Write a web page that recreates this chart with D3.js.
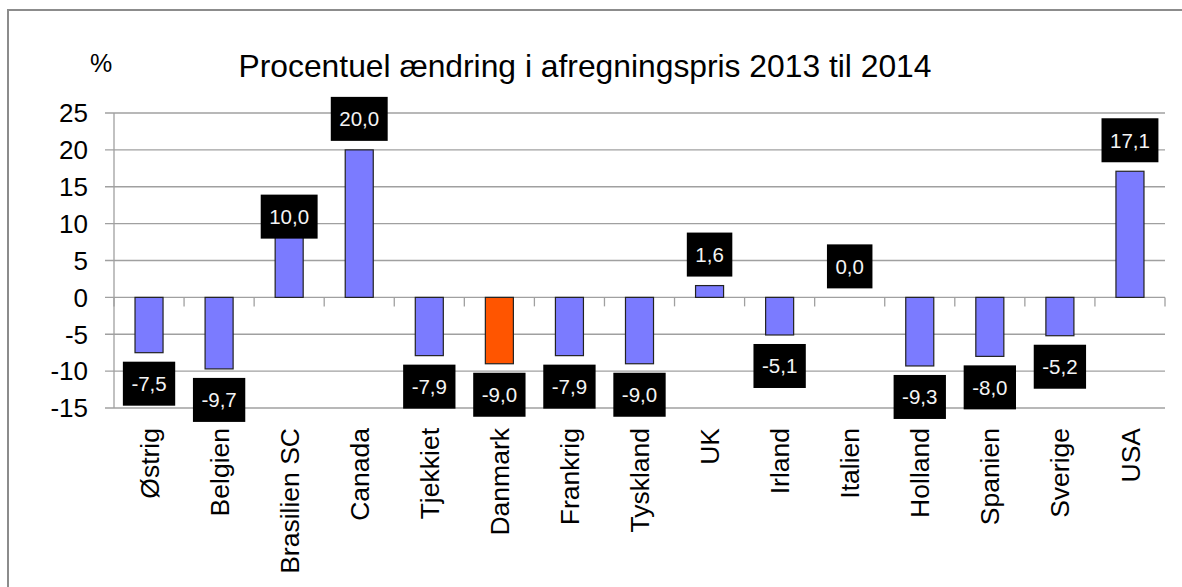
<!DOCTYPE html>
<html>
<head>
<meta charset="utf-8">
<script src="https://cdn.jsdelivr.net/npm/d3@7"></script>
<style>
    body { margin: 0; background: #fff; }
    svg text { font-family: "Liberation Sans", Arial, sans-serif; }
</style>
</head>
<body>
<div id="chart"></div>
<script>
// Chart data
const categories = ["Østrig", "Belgien", "Brasilien SC", "Canada", "Tjekkiet", "Danmark", "Frankrig",
    "Tyskland", "UK", "Irland", "Italien", "Holland", "Spanien", "Sverige", "USA"];
const values = [-7.5, -9.7, 10.0, 20.0, -7.9, -9.0, -7.9, -9.0, 1.6, -5.1, 0.0, -9.3, -8.0, -5.2, 17.1];
const yTicks = [25, 20, 15, 10, 5, 0, -5, -10, -15];
const yTickLabels = ["25", "20", "15", "10", "5", "0", "-5", "-10", "-15"];
const highlight = "Danmark";
const title = "Procentuel ændring i afregningspris 2013 til 2014";

function renderChart() {
    const W = 1182, H = 587;
    const plot = { left: 114, right: 1165, top: 113, bottom: 408 };

    const svg = d3.select("#chart")
        .append("svg")
        .attr("width", W)
        .attr("height", H);

    svg.append("rect").attr("width", W).attr("height", H).attr("fill", "#fff");

    // outer frame (right and bottom run off the picture)
    svg.append("rect")
        .attr("x", 8).attr("y", 10)
        .attr("width", 1300).attr("height", 800)
        .attr("fill", "none")
        .attr("stroke", "#8c8c8c")
        .attr("stroke-width", 2);

    const x = d3.scaleBand()
        .domain(categories)
        .range([plot.left, plot.right])
        .padding(0);

    const y = d3.scaleLinear()
        .domain([-15, 25])
        .range([plot.bottom, plot.top]);

    // gridlines + y tick labels
    const grid = svg.append("g");
    grid.selectAll("line")
        .data(yTicks)
        .enter()
        .append("line")
        .attr("x1", plot.left - 9)
        .attr("x2", plot.right)
        .attr("y1", d => y(d))
        .attr("y2", d => y(d))
        .attr("stroke", "#a0a0a0")
        .attr("stroke-width", 1.3);

    grid.selectAll("text")
        .data(yTicks)
        .enter()
        .append("text")
        .attr("x", 88)
        .attr("y", d => y(d))
        .attr("dy", "0.36em")
        .attr("text-anchor", "end")
        .attr("font-size", 26)
        .attr("fill", "#000")
        .text((d, i) => yTickLabels[i]);

    // y axis line
    svg.append("line")
        .attr("x1", plot.left).attr("x2", plot.left)
        .attr("y1", plot.top).attr("y2", plot.bottom)
        .attr("stroke", "#a0a0a0")
        .attr("stroke-width", 1.3);

    // category tick marks on the zero line
    const bounds = categories.map(c => x(c)).concat([plot.right]);
    svg.append("g")
        .selectAll("line")
        .data(bounds)
        .enter()
        .append("line")
        .attr("x1", d => d).attr("x2", d => d)
        .attr("y1", y(0)).attr("y2", y(0) + 9)
        .attr("stroke", "#a0a0a0")
        .attr("stroke-width", 1.3);

    // bars
    const barWidth = x.bandwidth() * 0.4;
    svg.append("g")
        .selectAll("rect")
        .data(categories)
        .enter()
        .append("rect")
        .attr("x", d => x(d) + (x.bandwidth() - barWidth) / 2)
        .attr("y", (d, i) => y(Math.max(0, values[i])))
        .attr("width", barWidth)
        .attr("height", (d, i) => Math.abs(y(values[i]) - y(0)))
        .attr("fill", d => d === highlight ? "#ff5500" : "#7b7bff")
        .attr("stroke", d => values[categories.indexOf(d)] === 0 ? "none" : "#222")
        .attr("stroke-width", 1.2);

    // value labels (black boxes)
    const labelOffset = { "Brasilien SC": -7 };
    const fmt = v => v.toFixed(1).replace(".", ",");
    const labels = svg.append("g")
        .selectAll("g")
        .data(categories)
        .enter()
        .append("g")
        .attr("transform", (d, i) => {
            const v = values[i];
            const off = labelOffset[d] !== undefined ? labelOffset[d] : (v >= 0 ? -31 : 31);
            return `translate(${x(d) + x.bandwidth() / 2},${y(v) + off})`;
        });

    labels.append("rect").attr("fill", "#000");
    labels.append("text")
        .attr("text-anchor", "middle")
        .attr("dy", "0.36em")
        .attr("font-size", 20.5)
        .attr("fill", "#f4f4f4")
        .text((d, i) => fmt(values[i]));
    labels.each(function () {
        const g = d3.select(this);
        const w = g.select("text").node().getComputedTextLength() + 17;
        g.select("rect")
            .attr("x", -w / 2).attr("y", -22)
            .attr("width", w).attr("height", 44);
    });

    // category labels, rotated
    svg.append("g")
        .selectAll("text")
        .data(categories)
        .enter()
        .append("text")
        .attr("transform", d => `translate(${x(d) + x.bandwidth() / 2},${plot.bottom + 20}) rotate(-90)`)
        .attr("text-anchor", "end")
        .attr("dy", "0.36em")
        .attr("font-size", 26.5)
        .attr("fill", "#000")
        .text(d => d);

    // title and unit
    svg.append("text")
        .attr("x", 585).attr("y", 77)
        .attr("text-anchor", "middle")
        .attr("font-size", 31.8)
        .attr("fill", "#000")
        .text(title);

    svg.append("text")
        .attr("x", 90).attr("y", 72)
        .attr("font-size", 25)
        .attr("fill", "#000")
        .text("%");
}

renderChart();
</script>
</body>
</html>
